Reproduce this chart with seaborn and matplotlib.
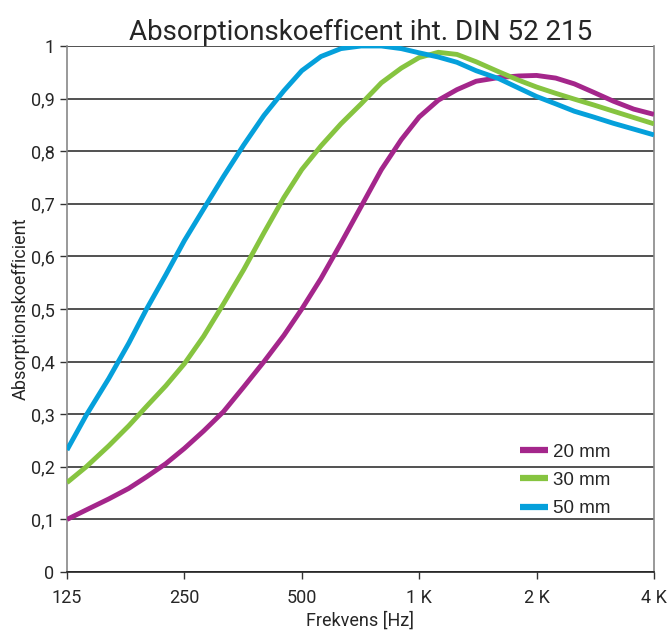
import numpy as np
import pandas as pd
import matplotlib
matplotlib.use("Agg")
import matplotlib.pyplot as plt
import seaborn as sns
from matplotlib.ticker import FixedLocator, FixedFormatter, NullLocator

sns.set_style("white")
plt.rcParams['font.family'] = ['Roboto', 'DejaVu Sans']

# aflæst i 1/6-oktav skridt
freqs = [125, 140, 160, 180, 200, 224, 250, 280, 315, 355, 400, 450, 500, 560, 630, 710,
         800, 900, 1000, 1120, 1250, 1400, 1600, 1800, 2000, 2240, 2500, 2800, 3150, 3550, 4000]
abs_20 = [0.10, 0.118, 0.139, 0.159, 0.181, 0.206, 0.235, 0.268, 0.305, 0.352, 0.40, 0.45,
          0.50, 0.558, 0.625, 0.695, 0.765, 0.822, 0.865, 0.897, 0.917, 0.933, 0.94, 0.943,
          0.944, 0.939, 0.928, 0.912, 0.895, 0.88, 0.87]
abs_30 = [0.17, 0.20, 0.24, 0.278, 0.315, 0.354, 0.396, 0.448, 0.51, 0.575, 0.645, 0.712,
          0.765, 0.81, 0.852, 0.89, 0.93, 0.958, 0.978, 0.988, 0.984, 0.97, 0.951, 0.935,
          0.922, 0.91, 0.899, 0.888, 0.876, 0.864, 0.852]
abs_50 = [0.232, 0.298, 0.368, 0.435, 0.50, 0.565, 0.63, 0.69, 0.752, 0.812, 0.868, 0.915,
          0.953, 0.98, 0.995, 1.0, 1.0, 0.995, 0.987, 0.979, 0.969, 0.953, 0.938, 0.92,
          0.904, 0.89, 0.876, 0.865, 0.853, 0.842, 0.831]
series = ["20 mm", "30 mm", "50 mm"]
colors = ["#A4268B", "#86C440", "#05A0DB"]

x_ticks = [125, 250, 500, 1000, 2000, 4000]
x_labels = ["125", "250", "500", "1 K", "2 K", "4 K"]
y_ticks = [0, 0.1, 0.2, 0.3, 0.4, 0.5, 0.6, 0.7, 0.8, 0.9, 1.0]
y_labels = ["0", "0,1", "0,2", "0,3", "0,4", "0,5", "0,6", "0,7", "0,8", "0,9", "1"]

df = pd.DataFrame({
    "freq": freqs * 3,
    "alpha": abs_20 + abs_30 + abs_50,
    "thickness": [s for s in series for _ in freqs],
})

fig, ax = plt.subplots(figsize=(6.7, 6.3), dpi=100)
fig.subplots_adjust(left=0.1, right=0.976, top=0.927, bottom=0.092)

ax.set_xscale("log")
for yv in y_ticks:
    ax.axhline(yv, color="#222222", lw=1.1, zorder=1)

sns.lineplot(data=df, x="freq", y="alpha", hue="thickness", palette=colors,
             lw=3.5, ax=ax, zorder=3, legend=True)
for line in ax.get_lines():
    line.set_solid_capstyle("butt")
    line.set_solid_joinstyle("round")

ax.set_xlim(125, 4000)
ax.set_ylim(0, 1)
ax.xaxis.set_major_locator(FixedLocator(x_ticks))
ax.xaxis.set_major_formatter(FixedFormatter(x_labels))
ax.xaxis.set_minor_locator(NullLocator())
ax.yaxis.set_major_locator(FixedLocator(y_ticks))
ax.yaxis.set_major_formatter(FixedFormatter(y_labels))
ax.tick_params(axis="both", direction="out", length=5, width=1, color="#333333",
               labelsize=13, bottom=True, left=True)
ax.tick_params(axis="x", pad=7)
ax.tick_params(axis="y", pad=4)

for side in ["left", "right"]:
    ax.spines[side].set_color("#888888")
    ax.spines[side].set_linewidth(1.2)
ax.spines["bottom"].set_color("#222222")
ax.spines["bottom"].set_linewidth(1.2)
ax.spines["top"].set_visible(False)

ax.set_title("Absorptionskoefficent iht. DIN 52 215", fontsize=20, pad=4)
ax.set_xlabel("Frekvens [Hz]", fontsize=13, labelpad=3)
ax.set_ylabel("Absorptionskoefficient", fontsize=13, labelpad=1)

leg = ax.legend(title=None, loc="lower right", bbox_to_anchor=(0.955, 0.072),
                frameon=False, handlelength=1.5, handletextpad=0.25,
                labelspacing=0.6, prop={"family": "Liberation Sans", "size": 13.5})
for h in leg.get_lines():
    h.set_linewidth(4.5)

plt.savefig("out.png", dpi=100)
plt.close()
